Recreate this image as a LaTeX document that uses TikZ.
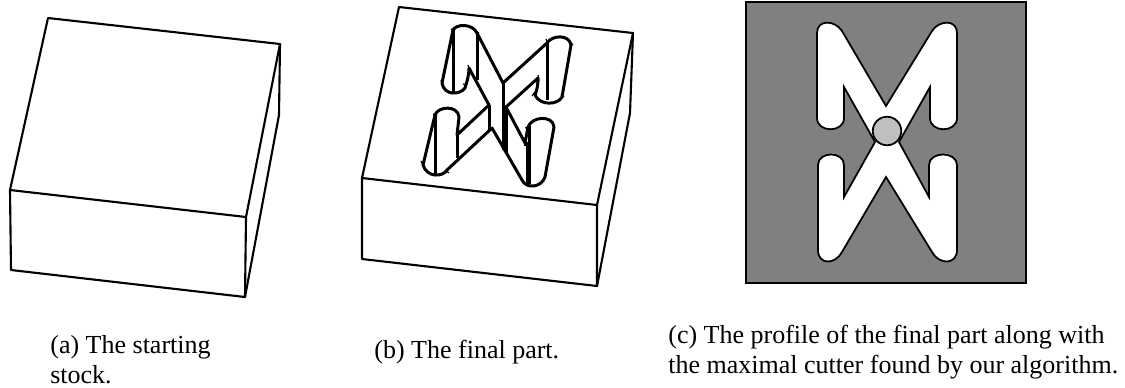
\documentclass[tikz,border=0pt]{standalone}
\usepackage{fontspec}
\setmainfont{Liberation Serif}
\tikzset{
  edgeline/.style={line width=1.2pt,line join=round},
  partline/.style={line width=1.7pt,line join=round},
  caption/.style={anchor=base west,inner sep=0pt,font=\fontsize{14.8pt}{17pt}\selectfont},
}
\begin{document}
\begin{tikzpicture}[x=0.02cm,y=-0.02cm]
\useasboundingbox (0,0) rectangle (1125,387);
% the stock
\draw[edgeline] (48,18) -- (280,44) -- (246,217) -- (10,190) -- cycle;
\draw[edgeline] (10,190) -- (11,270) -- (245,297) -- (246,217);
\draw[edgeline] (280,44) -- (279,115) -- (245,297);
% the final part
\draw[edgeline] (399,7) -- (633,33) -- (597,205) -- (362,178) -- cycle;
\draw[edgeline] (362,178) -- (362,259) -- (597,286) -- (597,205);
\draw[edgeline] (633,33) -- (630,113) -- (597,286);
% pocket outline
\draw[partline] (453,30) .. controls (456,24) and (472,23) .. (477,33) -- (503,83) -- (547,43)
  .. controls (552,35) and (569,34) .. (571,45) -- (562,97) .. controls (558,105) and (540,106) .. (535,95)
  .. controls (537,90) and (538,85) .. (538,78) -- (506,107) -- (525,143) -- (528,127)
  .. controls (532,116) and (553,115) .. (554,127) -- (545,177) .. controls (541,188) and (526,189) .. (522,180)
  -- (492,128) -- (447,170) .. controls (443,177) and (427,178) .. (423,165) -- (435,115)
  .. controls (438,106) and (458,105) .. (459,117) -- (457,135) -- (489,105) -- (469,68)
  .. controls (469,75) and (467,82) .. (465,88) .. controls (460,95) and (444,96) .. (442,83) -- cycle;
% pocket walls
\foreach \xa/\ya/\yb in {453/30/92,477/33/80,503/83/150,489/105/130,506/107/153,547/43/100,
  435/115/174,457/135/158,527/142/184,529/127/184}
  \draw[partline] (\xa,\ya) -- (\xa,\yb);
% small ticks at the arc ends
\foreach \xa/\ya/\xb/\yb in {451/29/455/31,475/31/479/33,441/80/443/86,463/84/467/85,468/65/470/71,
  546/39/548/45,570/42/573/45,535/92/532/96,561/95/564/97,538/75/539/81,
  433/114/437/116,421/161/424/167,445/170/449/173,525/128/531/126,525/141/525/146}
  \draw[line width=0.7pt] (\xa,\ya) -- (\xb,\yb);
% the profile
\draw[line width=1.2pt,fill=gray] (746,2) rectangle (1026,283);
\draw[line width=1pt,fill=white] (817,33) .. controls (817,19) and (835,20) .. (842,31) -- (886,106)
  -- (932,31) .. controls (939,20) and (957,19) .. (957,33) -- (957,118)
  .. controls (957,133) and (930,133) .. (930,118) -- (930,87) -- (899,142) -- (929,197) -- (929,165)
  .. controls (929,151) and (957,151) .. (957,165) -- (957,250)
  .. controls (957,265) and (939,265) .. (932,252) -- (886,177) -- (842,252)
  .. controls (835,265) and (818,265) .. (818,250) -- (818,165)
  .. controls (818,151) and (844,151) .. (844,165) -- (844,197) -- (875,142) -- (844,87) -- (844,118)
  .. controls (844,133) and (817,133) .. (817,118) -- cycle;
\node[circle,draw,line width=1pt,fill=gray!50,minimum size=0.57cm,inner sep=0pt] (cutter) at (887,131) {};
% captions
\node[caption] (capa) at (50,353) {(a) The starting};
\node[caption] (capastock) at (50,383) {stock.};
\node[caption] (capb) at (374,358) {(b) The final part.};
\node[caption] (capc) at (668,343) {(c) The profile of the final part along with};
\node[caption] (capcline) at (668,373) {the maximal cutter found by our algorithm.};
\end{tikzpicture}
\end{document}
